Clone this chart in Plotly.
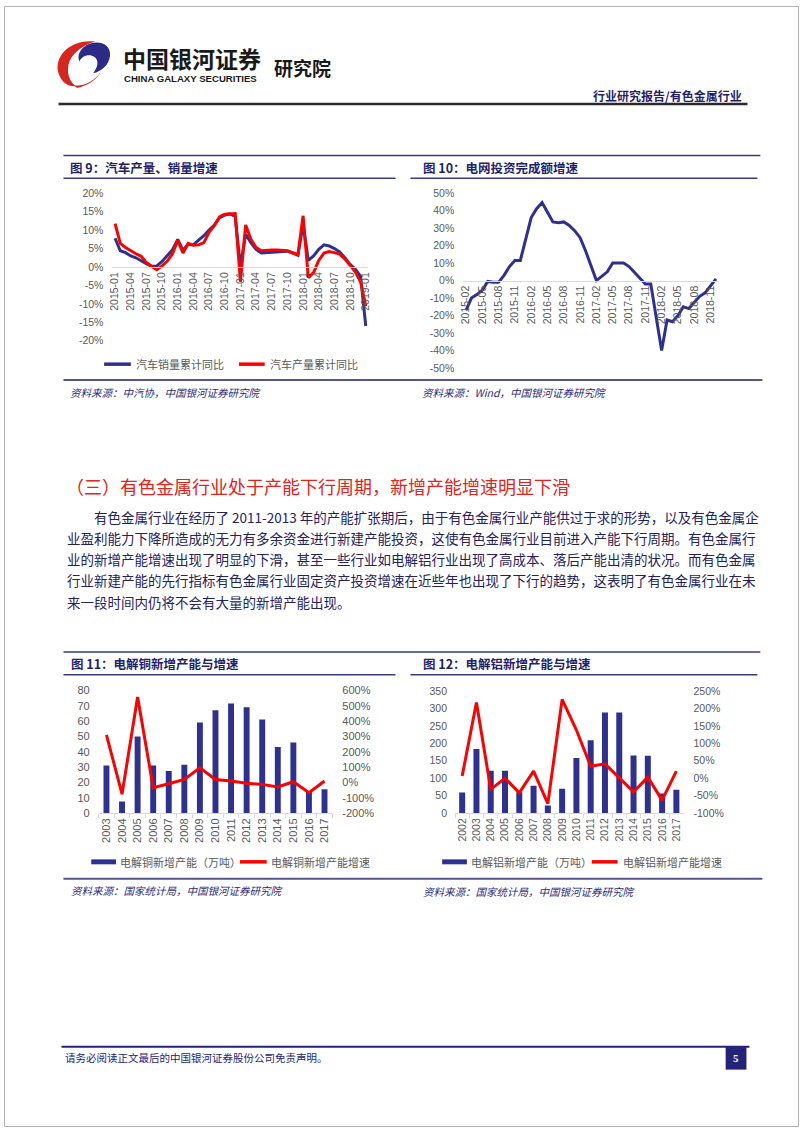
import plotly.graph_objects as go

W, H = 802, 1133

# ---------------- data ----------------
months9 = ["2015-01", "2015-02", "2015-03", "2015-04", "2015-05", "2015-06", "2015-07", "2015-08",
           "2015-09", "2015-10", "2015-11", "2015-12", "2016-01", "2016-02", "2016-03", "2016-04",
           "2016-05", "2016-06", "2016-07", "2016-08", "2016-09", "2016-10", "2016-11", "2016-12",
           "2017-01", "2017-02", "2017-03", "2017-04", "2017-05", "2017-06", "2017-07", "2017-08",
           "2017-09", "2017-10", "2017-11", "2017-12", "2018-01", "2018-02", "2018-03", "2018-04",
           "2018-05", "2018-06", "2018-07", "2018-08", "2018-09", "2018-10", "2018-11", "2018-12",
           "2019-01"]
car_sales_yoy = [7.8, 4.4, 3.9, 3.0, 2.5, 1.6, 0.9, 0.2, 0.3, 1.5, 3.0, 4.7,
                 7.5, 4.5, 6.2, 6.0, 7.3, 8.5, 10.0, 11.4, 13.4, 14.1, 14.4, 13.7,
                 0.2, 8.9, 6.6, 4.8, 3.8, 3.9, 4.1, 4.2, 4.3, 4.3, 3.9, 3.2,
                 11.5, 1.8, 3.0, 4.8, 6.0, 5.7, 5.0, 4.1, 2.5, 0.7, -0.6, -2.5,
                 -16.0]
car_prod_yoy = [11.8, 6.4, 5.3, 4.4, 3.6, 2.9, 1.2, 0.2, -0.7, 0.3, 1.6, 3.6,
                7.3, 3.8, 6.4, 5.9, 6.0, 6.6, 9.4, 11.2, 13.6, 14.3, 14.5, 14.5,
                -4.0, 11.4, 7.5, 5.3, 4.4, 4.6, 4.6, 4.6, 4.6, 4.4, 3.8, 3.3,
                13.9, -2.9, -1.5, 1.8, 3.8, 4.2, 3.9, 3.5, 2.2, 0.5, -1.3, -4.0,
                -10.6]
ticks9 = ["2015-01", "2015-04", "2015-07", "2015-10", "2016-01", "2016-04", "2016-07", "2016-10",
          "2017-01", "2017-04", "2017-07", "2017-10", "2018-01", "2018-04", "2018-07", "2018-10",
          "2019-01"]
yvals9 = [-20, -15, -10, -5, 0, 5, 10, 15, 20]
ylabels9 = ["-20%", "-15%", "-10%", "-5%", "0%", "5%", "10%", "15%", "20%"]

months10 = ["2015-02", "2015-03", "2015-04", "2015-05", "2015-06", "2015-07", "2015-08", "2015-09",
            "2015-10", "2015-11", "2015-12", "2016-01", "2016-02", "2016-03", "2016-04", "2016-05",
            "2016-06", "2016-07", "2016-08", "2016-09", "2016-10", "2016-11", "2016-12", "2017-01",
            "2017-02", "2017-03", "2017-04", "2017-05", "2017-06", "2017-07", "2017-08", "2017-09",
            "2017-10", "2017-11", "2017-12", "2018-01", "2018-02", "2018-03", "2018-04", "2018-05",
            "2018-06", "2018-07", "2018-08", "2018-09", "2018-10", "2018-11", "2018-12"]
grid_inv_yoy = [-17, -10, -8, -5.5, -0.5, -1, -1, 3, 8, 11.5, 11.5, None,
                36, 41, 44.5, 39, 33.5, 33, 33.5, 31.5, 28.5, 24.5, 17, None,
                0, 2.5, 5, 10, 10, 10, 8, 4.5, 1, -2, -2, None,
                -40, -22.5, -23.5, -20, -15, -16, -12.5, -9, -7, -3, 1]
ticks10 = ["2015-02", "2015-05", "2015-08", "2015-11", "2016-02", "2016-05", "2016-08", "2016-11",
           "2017-02", "2017-05", "2017-08", "2017-11", "2018-02", "2018-05", "2018-08", "2018-11"]
yvals10 = [-50, -40, -30, -20, -10, 0, 10, 20, 30, 40, 50]
ylabels10 = ["-50%", "-40%", "-30%", "-20%", "-10%", "0%", "10%", "20%", "30%", "40%", "50%"]

years11 = ["2003", "2004", "2005", "2006", "2007", "2008", "2009", "2010", "2011", "2012",
           "2013", "2014", "2015", "2016", "2017"]
copper_new_cap = [31, 7.5, 50, 31, 27.5, 31.5, 59, 67, 71.5, 69, 61, 43, 46, 14, 15.5]
copper_growth = [310, -77, 557, -34, -9, 19, 95, 19, 9, -6, -13, -30, 4, -67, 9]
yvals11_left = [0, 10, 20, 30, 40, 50, 60, 70, 80]
yvals11_right = [-200, -100, 0, 100, 200, 300, 400, 500, 600]
ylabels11_right = ["-200%", "-100%", "0%", "100%", "200%", "300%", "400%", "500%", "600%"]

years12 = ["2002", "2003", "2004", "2005", "2006", "2007", "2008", "2009", "2010", "2011",
           "2012", "2013", "2014", "2015", "2016", "2017"]
alu_new_cap = [59, 184, 121, 121, 60, 78.5, 22, 70, 158, 209, 288, 288, 165, 164, 56, 67]
alu_growth = [6, 217, -32, 0, -42, 20, -73, 226, 138, 34, 41, 1, -39, 3, -63, 20]
yvals12_left = [0, 50, 100, 150, 200, 250, 300, 350]
yvals12_right = [-100, -50, 0, 50, 100, 150, 200, 250]
ylabels12_right = ["-100%", "-50%", "0%", "50%", "100%", "150%", "200%", "250%"]

# ---------------- styles ----------------
BLUE = "#2E3192"
RED = "#FF0000"
TXT = "#25215e"
GRAY = "#595959"
AXIS = "#d9d9d9"
NUMF = "Liberation Sans, Arial, sans-serif"
CJK = "Noto Sans CJK SC, sans-serif"


def px(x):
    return x / W


def py(y):
    return 1 - y / H


fig = go.Figure()

# chart 9
fig.add_trace(go.Scatter(x=months9, y=car_sales_yoy, mode="lines", name="汽车销量累计同比",
                         line=dict(color=BLUE, width=3), xaxis="x", yaxis="y", showlegend=False))
fig.add_trace(go.Scatter(x=months9, y=car_prod_yoy, mode="lines", name="汽车产量累计同比",
                         line=dict(color=RED, width=3), xaxis="x", yaxis="y", showlegend=False))
# chart 10
fig.add_trace(go.Scatter(x=months10, y=grid_inv_yoy, mode="lines", connectgaps=True,
                         line=dict(color=BLUE, width=3), xaxis="x2", yaxis="y2", showlegend=False))
# chart 11
fig.add_trace(go.Bar(x=years11, y=copper_new_cap, marker=dict(color=BLUE, line=dict(width=0)),
                     width=0.38, xaxis="x3", yaxis="y3", showlegend=False))
fig.add_trace(go.Scatter(x=years11, y=copper_growth, mode="lines", line=dict(color=RED, width=3),
                         xaxis="x3", yaxis="y4", showlegend=False))
# chart 12
fig.add_trace(go.Bar(x=years12, y=alu_new_cap, marker=dict(color=BLUE, line=dict(width=0)),
                     width=0.42, xaxis="x4", yaxis="y5", showlegend=False))
fig.add_trace(go.Scatter(x=years12, y=alu_growth, mode="lines", line=dict(color=RED, width=3),
                         xaxis="x4", yaxis="y6", showlegend=False))

tf = dict(family=NUMF, size=10.5, color=GRAY)
tf11 = dict(family=NUMF, size=11, color=GRAY)
common = dict(showgrid=False, zeroline=False, fixedrange=True)

layout = dict(
    width=W, height=H, autosize=False,
    margin=dict(l=0, r=0, t=0, b=0),
    paper_bgcolor="white", plot_bgcolor="rgba(0,0,0,0)",
    showlegend=False,
    xaxis=dict(domain=[px(109.4), px(367.6)], anchor="free", position=py(263.8), type="category",
               range=[-0.5, 48.5], tickmode="array", tickvals=ticks9, tickangle=-90, tickfont=tf,
               showline=True, linecolor=AXIS, linewidth=1, ticks="", **common),
    yaxis=dict(domain=[py(338.3), py(189.3)], anchor="x", range=[-20, 20], tickmode="array",
               tickvals=yvals9, ticktext=ylabels9, tickfont=tf, showline=False, ticks="",
               ticklabelstandoff=8, **common),
    xaxis2=dict(domain=[px(463.3), px(721)], anchor="free", position=py(277.5), type="category",
                range=[-0.5, 46.5], tickmode="array", tickvals=ticks10, tickangle=-90, tickfont=tf,
                showline=True, linecolor=AXIS, linewidth=1, ticks="", **common),
    yaxis2=dict(domain=[py(366), py(189)], anchor="x2", range=[-50, 50], tickmode="array",
                tickvals=yvals10, ticktext=ylabels10, tickfont=tf, showline=False, ticks="",
                ticklabelstandoff=8, **common),
    xaxis3=dict(domain=[px(95.5), px(331.2)], anchor="y3", type="category", tickangle=-90,
                tickfont=tf11, showline=True, linecolor=AXIS, linewidth=1, ticks="outside",
                tickson="boundaries", ticklen=4, tickcolor=AXIS, **common),
    yaxis3=dict(domain=[py(815.7), py(691.7)], anchor="x3", range=[0, 80], tickmode="array",
                tickvals=yvals11_left, tickfont=tf11, showline=False, ticks="",
                ticklabelstandoff=8, **common),
    yaxis4=dict(domain=[py(815.7), py(691.7)], anchor="x3", overlaying="y3", side="right",
                range=[-200, 600], tickmode="array", tickvals=yvals11_right,
                ticktext=ylabels11_right, tickfont=tf11, showline=False, ticks="",
                ticklabelstandoff=9, **common),
    xaxis4=dict(domain=[px(455), px(685.5)], anchor="y5", type="category", tickangle=-90,
                tickfont=tf, showline=True, linecolor=AXIS, linewidth=1, ticks="outside",
                tickson="boundaries", ticklen=4, tickcolor=AXIS, **common),
    yaxis5=dict(domain=[py(815.7), py(692.3)], anchor="x4", range=[0, 350], tickmode="array",
                tickvals=yvals12_left, tickfont=tf, showline=False, ticks="",
                ticklabelstandoff=7, **common),
    yaxis6=dict(domain=[py(815.7), py(692.3)], anchor="x4", overlaying="y5", side="right",
                range=[-100, 250], tickmode="array", tickvals=yvals12_right,
                ticktext=ylabels12_right, tickfont=tf, showline=False, ticks="",
                ticklabelstandoff=9, **common),
)

shapes = []
annotations = []


def hline(x0, x1, y, color, width):
    shapes.append(dict(type="line", xref="paper", yref="paper", x0=px(x0), x1=px(x1),
                       y0=py(y), y1=py(y), line=dict(color=color, width=width)))


def rect(x0, y0, x1, y1, fill, line_color=None, lw=0):
    shapes.append(dict(type="rect", xref="paper", yref="paper", x0=px(x0), x1=px(x1),
                       y0=py(y1), y1=py(y0), fillcolor=fill,
                       line=dict(color=line_color or fill, width=lw)))


def path(pts_str, fill):
    out = []
    for tok in pts_str.split():
        if "," in tok:
            a, b = tok.split(",")
            out.append(f"{px(float(a)):.5f},{py(float(b)):.5f}")
        else:
            out.append(tok)
    shapes.append(dict(type="path", xref="paper", yref="paper", path=" ".join(out),
                       fillcolor=fill, line=dict(width=0)))


def text(x, y, s, size, color, family=CJK, anchor="left", vanchor="middle"):
    annotations.append(dict(xref="paper", yref="paper", x=px(x), y=py(y), text=s,
                            showarrow=False, xanchor=anchor, yanchor=vanchor,
                            font=dict(family=family, size=size, color=color)))


# page frame
shapes.append(dict(type="rect", xref="paper", yref="paper", x0=0.0006, x1=0.9994, y0=0.0004,
                   y1=0.9996, line=dict(color="#b0b0b0", width=1)))

# logo
path("M 92,36 C 66,33 50,52 55,68 C 58,78 66,82 72,81 C 64,74 62,62 68,52 C 74,44 84,38 92,36 Z", "#d7261e")
path("M 80,42 C 90,33 108,36 107,50 C 106,60 98,66 90,68 C 96,60 96,52 88,50 C 82,49 78,52 76,56 C 74,50 76,46 80,42 Z", "#2b2a86")
path("M 70,80 C 80,82 92,76 98,66 C 94,74 86,80 74,83 Z", "#d7261e")

text(118, 53, "<b>中国银河证券</b>", 23, "#1a1a1a")
text(119, 73, "<b>CHINA GALAXY SECURITIES</b>", 9.6, "#1a1a1a", family=NUMF)
text(270, 62, "<b>研究院</b>", 19, "#1a1a1a")
text(747, 90, "<b>行业研究报告/有色金属行业</b>", 12, "#1f1f6e", anchor="right")
hline(55, 750, 99, "#2a2a2a", 2.5)

# block 1 frame
hline(60, 763, 151, "#3a3a80", 1.5)
hline(60, 395, 174, "#3a3a80", 1.5)
hline(410, 760, 174, "#3a3a80", 1.5)
hline(60, 765, 378, "#55558a", 2)
text(65, 163, "<b>图 9：汽车产量、销量增速</b>", 12.5, "#1f1f6b")
text(421, 163, "<b>图 10：电网投资完成额增速</b>", 12.5, "#1f1f6b")
text(65, 391, "<i>资料来源：中汽协，中国银河证券研究院</i>", 10.5, "#2b2b7a")
text(420, 391, "<i>资料来源：Wind，中国银河证券研究院</i>", 10.5, "#2b2b7a")

# chart 9 legend
hline(101, 128, 362, BLUE, 3.5)
text(131, 362, "汽车销量累计同比", 11, GRAY)
hline(237, 263, 362, RED, 3.5)
text(266, 362, "汽车产量累计同比", 11, GRAY)

# heading + paragraph
text(61, 485, "（三）有色金属行业处于产能下行周期，新增产能增速明显下滑", 18, "#e3231c")
para = [
    (89, "有色金属行业在经历了 2011-2013 年的产能扩张期后，由于有色金属行业产能供过于求的形势，以及有色金属企"),
    (62, "业盈利能力下降所造成的无力有多余资金进行新建产能投资，这使有色金属行业目前进入产能下行周期。有色金属行"),
    (62, "业的新增产能增速出现了明显的下滑，甚至一些行业如电解铝行业出现了高成本、落后产能出清的状况。而有色金属"),
    (62, "行业新建产能的先行指标有色金属行业固定资产投资增速在近些年也出现了下行的趋势，这表明了有色金属行业在未"),
    (62, "来一段时间内仍将不会有大量的新增产能出现。"),
]
for i, (x0, s) in enumerate(para):
    text(x0, 516 + i * 21.5, s, 13.5, TXT)

# block 2 frame
hline(60, 763, 653, "#3a3a80", 1.5)
hline(60, 395, 676, "#3a3a80", 1.5)
hline(410, 760, 676, "#3a3a80", 1.5)
hline(60, 765, 882, "#55558a", 2)
text(66, 665, "<b>图 11：电解铜新增产能与增速</b>", 12.5, "#1f1f6b")
text(421, 665, "<b>图 12：电解铝新增产能与增速</b>", 12.5, "#1f1f6b")
text(66, 894, "<i>资料来源：国家统计局，中国银河证券研究院</i>", 10.5, "#2b2b7a")
text(421, 895, "<i>资料来源：国家统计局，中国银河证券研究院</i>", 10.5, "#2b2b7a")

# chart 11 legend
rect(88, 862.5, 113, 867.5, BLUE)
text(115, 865, "电解铜新增产能（万吨）", 11, GRAY)
hline(238, 265, 865, RED, 3.5)
text(267, 865, "电解铜新增产能增速", 11, GRAY)

# chart 12 legend
rect(442, 862.5, 467, 867.5, BLUE)
text(469, 865, "电解铝新增产能（万吨）", 11, GRAY)
hline(593, 619, 865, RED, 3.5)
text(622, 865, "电解铝新增产能增速", 11, GRAY)

# footer
hline(58, 752, 1052, "#23237a", 2)
text(60, 1063, "请务必阅读正文最后的中国银河证券股份公司免责声明。", 10.5, "#23237a")
rect(728, 1052, 749, 1075, "#23237a")
text(738.5, 1063.5, "<b>5</b>", 11, "white", family="Liberation Serif, serif", anchor="center")

layout["shapes"] = shapes
layout["annotations"] = annotations
fig.update_layout(**layout)

fig.write_html("out.html", config={"displayModeBar": False})
